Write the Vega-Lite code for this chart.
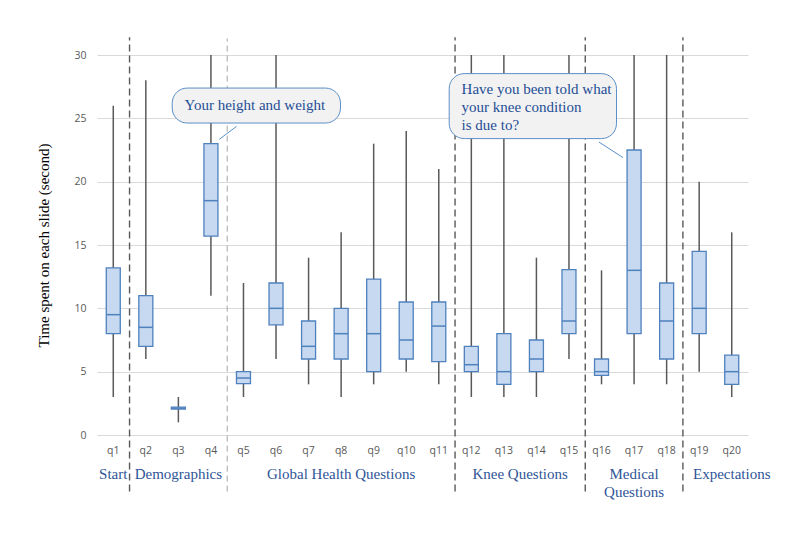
{
  "$schema": "https://vega.github.io/schema/vega-lite/v6.json",
  "width": 651,
  "height": 380,
  "autosize": {"type": "none"},
  "padding": {"left": 97, "top": 55, "right": 52, "bottom": 98},
  "background": "white",
  "config": {"view": {"stroke": null}},
  "datasets": {
    "boxes": [
      {"q": "q1", "lo": 3, "lower": 8, "med": 9.5, "upper": 13.2, "hi": 26},
      {"q": "q2", "lo": 6, "lower": 7, "med": 8.5, "upper": 11, "hi": 28},
      {"q": "q3", "lo": 1, "lower": 2.05, "med": 2.12, "upper": 2.2, "hi": 3},
      {"q": "q4", "lo": 11, "lower": 15.7, "med": 18.5, "upper": 23, "hi": 30},
      {"q": "q5", "lo": 3, "lower": 4.05, "med": 4.5, "upper": 5, "hi": 12},
      {"q": "q6", "lo": 6, "lower": 8.7, "med": 10, "upper": 12, "hi": 30},
      {"q": "q7", "lo": 4, "lower": 6, "med": 7, "upper": 9, "hi": 14},
      {"q": "q8", "lo": 3, "lower": 6, "med": 8, "upper": 10, "hi": 16},
      {"q": "q9", "lo": 4, "lower": 5, "med": 8, "upper": 12.3, "hi": 23},
      {"q": "q10", "lo": 5, "lower": 6, "med": 7.5, "upper": 10.5, "hi": 24},
      {"q": "q11", "lo": 4, "lower": 5.8, "med": 8.6, "upper": 10.5, "hi": 21},
      {"q": "q12", "lo": 3, "lower": 5, "med": 5.55, "upper": 7, "hi": 30},
      {"q": "q13", "lo": 3, "lower": 4, "med": 5, "upper": 8, "hi": 30},
      {"q": "q14", "lo": 3, "lower": 5, "med": 6, "upper": 7.5, "hi": 14},
      {"q": "q15", "lo": 6, "lower": 8, "med": 9, "upper": 13.05, "hi": 30},
      {"q": "q16", "lo": 4, "lower": 4.7, "med": 5, "upper": 6, "hi": 13},
      {"q": "q17", "lo": 4, "lower": 8, "med": 13, "upper": 22.5, "hi": 30},
      {"q": "q18", "lo": 4, "lower": 6, "med": 9, "upper": 12, "hi": 30},
      {"q": "q19", "lo": 5, "lower": 8, "med": 10, "upper": 14.5, "hi": 20},
      {"q": "q20", "lo": 3, "lower": 4, "med": 5, "upper": 6.3, "hi": 16}
    ]
  },
  "encoding": {
    "x": {
      "field": "q",
      "type": "nominal",
      "scale": {
        "domain": ["q1","q2","q3","q4","q5","q6","q7","q8","q9","q10","q11","q12","q13","q14","q15","q16","q17","q18","q19","q20"],
        "paddingInner": 0,
        "paddingOuter": 0
      },
      "axis": {
        "title": null,
        "domain": false,
        "ticks": false,
        "labelAngle": 0,
        "labelFont": "Open Sans",
        "labelFontSize": 10.5,
        "labelColor": "#595959",
        "labelPadding": 10
      }
    }
  },
  "layer": [
    {
      "data": {"name": "boxes"},
      "mark": {"type": "rule", "color": "#595959", "strokeWidth": 1.5},
      "encoding": {
        "y": {
          "field": "lo",
          "type": "quantitative",
          "scale": {"domain": [0, 30], "nice": false, "zero": false},
          "axis": {
            "title": "Time spent on each slide (second)",
            "titleFont": "Liberation Serif",
            "titleFontSize": 15,
            "titleFontWeight": "normal",
            "titleColor": "#000000",
            "titlePadding": 22,
            "values": [0, 5, 10, 15, 20, 25, 30],
            "domain": false,
            "ticks": false,
            "grid": true,
            "gridColor": "#d9d9d9",
            "gridWidth": 1,
            "labelFont": "Open Sans",
            "labelFontSize": 10.5,
            "labelColor": "#595959",
            "labelPadding": 11
          }
        },
        "y2": {"field": "hi"}
      }
    },
    {
      "data": {"name": "boxes"},
      "mark": {"type": "bar", "size": 14, "fill": "#c6d9f1", "stroke": "#4f81bd", "strokeWidth": 1.3},
      "encoding": {
        "y": {"field": "lower", "type": "quantitative"},
        "y2": {"field": "upper"}
      }
    },
    {
      "data": {"name": "boxes"},
      "mark": {"type": "tick", "size": 14, "thickness": 1.5, "color": "#4f81bd", "opacity": 1},
      "encoding": {
        "y": {"field": "med", "type": "quantitative"}
      }
    },
    {
      "data": {"values": [{"q": "q2"}, {"q": "q12"}, {"q": "q16"}, {"q": "q19"}]},
      "mark": {"type": "rule", "color": "#595959", "strokeWidth": 1.4, "strokeDash": [7, 4]},
      "encoding": {
        "x": {"field": "q", "type": "nominal", "bandPosition": 0},
        "y": {"datum": -4.47},
        "y2": {"datum": 31.41}
      }
    },
    {
      "data": {"values": [{"q": "q5"}]},
      "mark": {"type": "rule", "color": "#a6a6a6", "strokeWidth": 1, "strokeDash": [6, 4]},
      "encoding": {
        "x": {"field": "q", "type": "nominal", "bandPosition": 0},
        "y": {"datum": -4.47},
        "y2": {"datum": 31.3}
      }
    },
    {
      "data": {"values": [{"from": "q3", "to": "q8", "top": 27.39, "bottom": 24.63}]},
      "mark": {"type": "rect", "fill": "#f2f2f2", "stroke": "#5b8fc9", "strokeWidth": 1, "cornerRadius": 15},
      "encoding": {
        "x": {"field": "from", "type": "nominal", "bandPosition": 0.31},
        "x2": {"field": "to", "bandPosition": 0.48},
        "y": {"field": "top", "type": "quantitative"},
        "y2": {"field": "bottom"}
      }
    },
    {
      "data": {"values": [{"from": "q5", "to": "q4", "a": 24.37, "b": 23.34}]},
      "mark": {"type": "rule", "color": "#5b8fc9", "strokeWidth": 1},
      "encoding": {
        "x": {"field": "from", "type": "nominal", "bandPosition": 0.29},
        "x2": {"field": "to", "bandPosition": 0.755},
        "y": {"field": "a", "type": "quantitative"},
        "y2": {"field": "b"}
      }
    },
    {
      "data": {"values": [{"q": "q5", "label": "Your height and weight", "v": 26.05}]},
      "mark": {"type": "text", "font": "Liberation Serif", "fontSize": 15, "color": "#1f4e96", "align": "center", "baseline": "middle"},
      "encoding": {
        "x": {"field": "q", "type": "nominal", "bandPosition": 0.85},
        "y": {"field": "v", "type": "quantitative"},
        "text": {"field": "label"}
      }
    },
    {
      "data": {"values": [{"from": "q11", "to": "q16", "top": 28.53, "bottom": 23.4}]},
      "mark": {"type": "rect", "fill": "#f2f2f2", "stroke": "#5b8fc9", "strokeWidth": 1, "cornerRadius": 15},
      "encoding": {
        "x": {"field": "from", "type": "nominal", "bandPosition": 0.82},
        "x2": {"field": "to", "bandPosition": 0.96},
        "y": {"field": "top", "type": "quantitative"},
        "y2": {"field": "bottom"}
      }
    },
    {
      "data": {"values": [{"from": "q16", "to": "q17", "a": 23.13, "b": 21.9}]},
      "mark": {"type": "rule", "color": "#5b8fc9", "strokeWidth": 1},
      "encoding": {
        "x": {"field": "from", "type": "nominal", "bandPosition": 0.42},
        "x2": {"field": "to", "bandPosition": 0.16},
        "y": {"field": "a", "type": "quantitative"},
        "y2": {"field": "b"}
      }
    },
    {
      "data": {"values": [{"q": "q12", "v": 27.29}]},
      "mark": {"type": "text", "font": "Liberation Serif", "fontSize": 15, "color": "#1f4e96", "align": "left", "baseline": "middle", "lineHeight": 18, "text": ["Have you been told what", "your knee condition", "is due to?"]},
      "encoding": {
        "x": {"field": "q", "type": "nominal", "bandPosition": 0.2},
        "y": {"field": "v", "type": "quantitative"}
      }
    },
    {
      "data": {"values": [
        {"q": "q1", "label": "Start", "v": -3.49},
        {"q": "q3", "label": "Demographics", "v": -3.49},
        {"q": "q8", "label": "Global Health Questions", "v": -3.49},
        {"q": "q17", "label": "Medical\nQuestions", "v": -3.49},
        {"q": "q20", "label": "Expectations", "v": -3.49}
      ]},
      "mark": {"type": "text", "font": "Liberation Serif", "fontSize": 15, "color": "#2f5597", "align": "center", "baseline": "alphabetic", "lineHeight": 18, "lineBreak": "\n"},
      "encoding": {
        "x": {"field": "q", "type": "nominal", "bandPosition": 0.5},
        "y": {"field": "v", "type": "quantitative"},
        "text": {"field": "label"}
      }
    },
    {
      "data": {"values": [{"q": "q14", "label": "Knee Questions", "v": -3.49}]},
      "mark": {"type": "text", "font": "Liberation Serif", "fontSize": 15, "color": "#2f5597", "align": "center", "baseline": "alphabetic"},
      "encoding": {
        "x": {"field": "q", "type": "nominal", "bandPosition": 0},
        "y": {"field": "v", "type": "quantitative"},
        "text": {"field": "label"}
      }
    }
  ]
}
